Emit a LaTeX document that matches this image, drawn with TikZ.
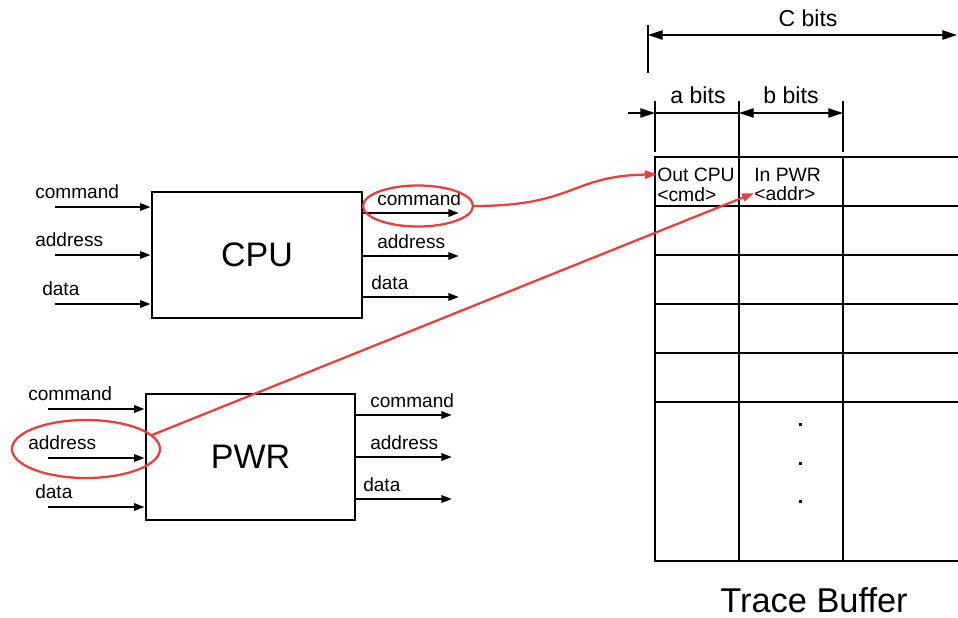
\documentclass[tikz,border=0pt]{standalone}
\usepackage{fontspec}
\setmainfont{Liberation Sans}
\usetikzlibrary{arrows.meta, shapes.geometric, positioning}
\definecolor{tbRed}{HTML}{EE3B3B}
\tikzset{
  block/.style    = {draw, line width=2pt, inner sep=0pt,
                     font=\fontsize{25.5}{30}\selectfont},
  sig/.style      = {-{Triangle[length=8pt,width=5.5pt]}, line width=1.7pt},
  siglbl/.style   = {anchor=base west, inner sep=0pt,
                     font=\fontsize{14.3}{17}\selectfont},
  celltxt/.style  = {anchor=base west, inner sep=0pt,
                     font=\fontsize{14.5}{17}\selectfont},
  bufline/.style  = {line width=2pt, line cap=rect},
  dimline/.style  = {line width=0.9pt},
  dimtip/.style   = {{Triangle[length=11pt,width=7pt]}-{Triangle[length=11pt,width=7pt]},
                     line width=0.9pt},
  dimlbl/.style   = {anchor=base, inner sep=0pt, font=\fontsize{17.3}{20}\selectfont},
  ring/.style     = {ellipse, draw=tbRed, line width=1.7pt, inner sep=0pt},
  trace/.style    = {tbRed, line width=1.7pt, -{Triangle[length=9pt,width=6pt]}},
}
\begin{document}
\begin{tikzpicture}[x=0.75pt,y=-0.75pt]
  \useasboundingbox (0,0) rectangle (958,618);

  % CPU and its signals
  \node[block, minimum width=157.5pt, minimum height=94.5pt] (cpu) at (257,255) {CPU};
  \foreach \i/\y/\s/\lx in {1/207/command/35, 2/255/address/35, 3/304/data/42} {
    \coordinate (cin\i) at (55,\y);
    \draw[sig] (cin\i) -- (cin\i -| cpu.west);
    \node[siglbl] (cinl\i) at (\lx,\y-9) {\s};
  }
  \foreach \i/\y/\s/\lx in {1/213/command/377, 2/256/address/377, 3/297/data/371} {
    \coordinate (cout\i) at (459,\y);
    \draw[sig] (cout\i -| cpu.east) -- (cout\i);
    \node[siglbl] (coutl\i) at (\lx,\y-8) {\s};
  }

  % PWR and its signals
  \node[block, minimum width=156.75pt, minimum height=94.5pt] (pwr) at (250.5,457) {PWR};
  \foreach \i/\y/\s/\lx in {1/409/command/28, 2/458/address/28, 3/507/data/35} {
    \coordinate (pin\i) at (48,\y);
    \draw[sig] (pin\i) -- (pin\i -| pwr.west);
    \node[siglbl] (pinl\i) at (\lx,\y-9) {\s};
  }
  \foreach \i/\y/\s/\lx in {1/415/command/370, 2/457/address/370, 3/499/data/363} {
    \coordinate (pout\i) at (452,\y);
    \draw[sig] (pout\i -| pwr.east) -- (pout\i);
    \node[siglbl] (poutl\i) at (\lx,\y-8) {\s};
  }

  % trace buffer
  \foreach \y in {157,206,255,304,353,402,561}
    \draw[bufline] (655,\y) -- (958,\y);
  \foreach \x in {655,739,843}
    \draw[bufline] (\x,157) -- (\x,561);
  \foreach \y in {424,463,501}
    \fill (798.5,\y-1.5) rectangle ++(3,3);
  \node[celltxt] (outcpu) at (657,181) {Out CPU};
  \node[celltxt] (cmd)    at (657,201) {<cmd>};
  \node[celltxt] (inpwr)  at (754,181) {In PWR};
  \node[celltxt] (addr)   at (754,200) {<addr>};
  \node[anchor=base, inner sep=0pt, font=\fontsize{25.8}{30}\selectfont]
    (buf) at (814,612) {Trace Buffer};

  % widths
  \draw[dimline] (648,25) -- (648,73);
  \coordinate (c0) at (648,35); \coordinate (c1) at (957,35);
  \draw[dimtip] (c0) -- (c1);
  \node[dimlbl] (cbits) at (808,26) {C bits};
  \foreach \x/\b in {655/152, 739/157, 843/152}
    \draw[dimline] (\x,101) -- (\x,\b);
  \coordinate (a0) at (628,113); \coordinate (a1) at (655,113);
  \coordinate (b0) at (739,113); \coordinate (b1) at (843,113);
  \draw[dimline, -{Triangle[length=11pt,width=7pt]}] (a0) -- (a1);
  \draw[dimline] (a1) -- (b0);
  \draw[dimtip] (b0) -- (b1);
  \node[dimlbl] (abits) at (698,103) {a bits};
  \node[dimlbl] (bbits) at (791,103) {b bits};

  % traced signals
  \node[ring, minimum width=82.5pt, minimum height=30.75pt] (ringcpu) at (418,206) {};
  \node[ring, minimum width=111pt, minimum height=43.5pt] (ringpwr) at (86,449) {};
  \draw[trace] (ringcpu.east) .. controls (575,206) and (570,176) .. (outcpu.west);
  \draw[trace] (ringpwr.12) -- (addr.west);
\end{tikzpicture}
\end{document}
